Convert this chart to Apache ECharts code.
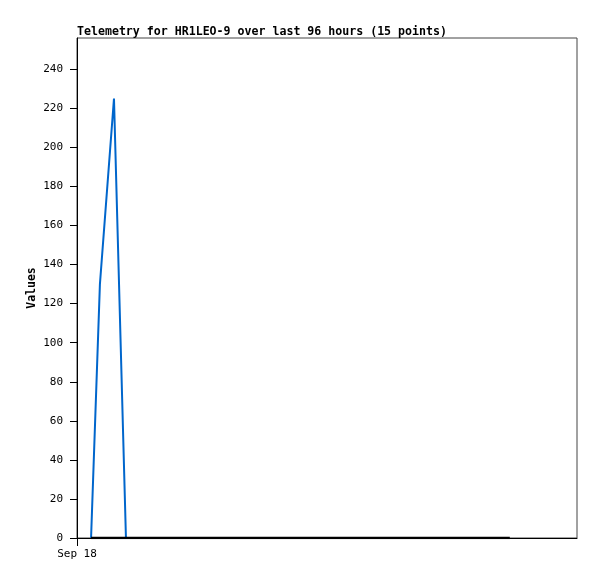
<!DOCTYPE html>
<html>
<head>
<meta charset="utf-8">
<script src="https://cdn.jsdelivr.net/npm/echarts@6/dist/echarts.min.js"></script>
<style>html,body{margin:0;padding:0;background:#fff}#c{width:597px;height:579px}</style>
</head>
<body>
<div id="c"></div>
<script>
// Hours since start of window (Sep 18 00:00)
const hours = [2.7, 4.4, 7.1, 9.4, 15.0, 21.0, 27.0, 33.0, 39.0, 45.0, 52.0, 58.0, 65.0, 74.0, 83.1];
const values = [0, 130, 225, 0, 0, 0, 0, 0, 0, 0, 0, 0, 0, 0, 0];
const peakCount = 4;
const baselineValues = [0, 0, 0, 0, 0, 0, 0, 0, 0, 0, 0, 0, 0, 0, 0];
const xTickLabels = ['Sep 18'];
const yTicks = [0, 20, 40, 60, 80, 100, 120, 140, 160, 180, 200, 220, 240];

const mono = 'DejaVu Sans Mono';
const chart = echarts.init(document.getElementById('c'), null, {renderer: 'canvas'});
chart.setOption({
  animation: false,
  backgroundColor: '#fff',
  title: {
    text: 'Telemetry for HR1LEO-9 over last 96 hours (15 points)',
    left: 77, top: 26, padding: 0,
    textStyle: {fontFamily: mono, fontWeight: 'bold', fontSize: 11.6, color: '#000'}
  },
  grid: {left: 77, top: 38, right: 20, bottom: 41, show: true, borderColor: '#444', borderWidth: 1, containLabel: false},
  xAxis: {
    type: 'value', min: 0, max: 96,
    axisLine: {show: true, onZero: false, lineStyle: {color: '#000', width: 1}},
    axisTick: {show: true, length: 8, customValues: [0], lineStyle: {color: '#000'}},
    axisLabel: {customValues: [0], formatter: () => xTickLabels[0], fontFamily: mono, fontSize: 11, color: '#000', margin: 11},
    splitLine: {show: false}
  },
  yAxis: {
    type: 'value', min: 0, max: 256,
    name: 'Values', nameLocation: 'middle', nameGap: 39, nameMoveOverlap: false,
    nameTextStyle: {fontFamily: mono, fontWeight: 'bold', fontSize: 11.5, color: '#000'},
    axisLine: {show: true, lineStyle: {color: '#000', width: 1}},
    axisTick: {show: true, length: 7, customValues: yTicks, lineStyle: {color: '#000'}},
    axisLabel: {customValues: yTicks, fontFamily: mono, fontSize: 11, color: '#000', margin: 14},
    splitLine: {show: false}
  },
  series: [
    {
      type: 'line', showSymbol: false, silent: true,
      data: hours.slice(0, peakCount).map((h, i) => [h, values[i]]),
      lineStyle: {color: '#0066cc', width: 2}, z: 2
    },
    {
      type: 'line', showSymbol: false, silent: true,
      data: hours.map((h, i) => [h, baselineValues[i]]),
      lineStyle: {color: '#000', width: 2.5}, z: 3
    }
  ]
});
</script>
</body>
</html>
